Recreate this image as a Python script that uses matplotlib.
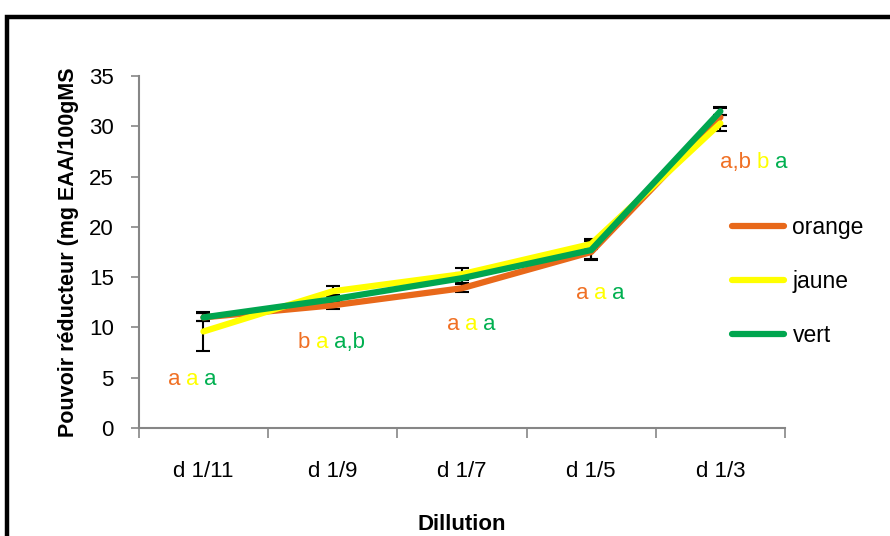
import matplotlib
matplotlib.use('Agg')
import matplotlib.pyplot as plt
from matplotlib.offsetbox import TextArea, HPacker, AnnotationBbox
from matplotlib.patches import Rectangle
import numpy as np

plt.rcParams['font.family'] = ['Liberation Sans', 'DejaVu Sans']

dilutions = ['d 1/11', 'd 1/9', 'd 1/7', 'd 1/5', 'd 1/3']
orange = [11.0, 12.2, 13.9, 17.5, 30.9]
jaune = [9.6, 13.6, 15.3, 18.3, 30.3]
vert = [11.0, 12.8, 14.9, 17.7, 31.5]
err_orange = [0.4, 0.4, 0.4, 0.8, 0.9]
err_jaune = [1.9, 0.5, 0.6, 0.5, 0.8]
err_vert = [0.4, 0.4, 0.5, 0.9, 0.4]

# significance letters (orange, jaune, vert)
letters = [('a', 'a', 'a'), ('b', 'a', 'a,b'), ('a', 'a', 'a'), ('a', 'a', 'a'), ('a,b', 'b', 'a')]
letter_pos = [(-0.09, 4.8), (0.99, 8.5), (2.07, 10.3), (3.07, 13.4), (4.26, 26.4)]

colors = {'orange': '#E8681A', 'jaune': '#FFFF00', 'vert': '#00A64F'}
text_colors = ['#F07024', '#FFFF00', '#00B050']

fig = plt.figure(figsize=(8.9, 5.36), dpi=100)
ax = fig.add_axes([0.156, 0.2015, 0.726, 0.6565])

x = np.arange(len(dilutions))
series = [('orange', orange, err_orange), ('jaune', jaune, err_jaune), ('vert', vert, err_vert)]
for name, vals, err in series:
    ax.errorbar(x, vals, yerr=err, fmt='none', ecolor='black', elinewidth=1.5,
                capsize=5, capthick=1.5, zorder=2)
for name, vals, err in series:
    ax.plot(x, vals, color=colors[name], lw=4.5, marker='D', ms=2.5,
            markeredgewidth=0, solid_capstyle='round', label=name, zorder=3)

ax.set_xlim(-0.5, len(dilutions) - 0.5)
ax.set_ylim(0, 35)
ax.set_yticks(range(0, 36, 5))
ax.set_xticks(x)
ax.set_xticklabels(dilutions)
ax.set_xticks(np.arange(-0.5, len(dilutions), 1), minor=True)
ax.tick_params(axis='x', which='major', length=0, pad=24, labelsize=16)
ax.tick_params(axis='x', which='minor', length=7, color='#868686', width=1.2)
ax.tick_params(axis='y', length=6, color='#868686', width=1.2, labelsize=16, pad=12)

for side in ['top', 'right']:
    ax.spines[side].set_visible(False)
for side in ['left', 'bottom']:
    ax.spines[side].set_color('#868686')
    ax.spines[side].set_linewidth(1.5)

ax.set_ylabel('Pouvoir réducteur (mg EAA/100gMS', fontsize=15.5, fontweight='bold', labelpad=7)
ax.set_xlabel('Dillution', fontsize=16, fontweight='bold', labelpad=23)

for (lx, ly), labs in zip(letter_pos, letters):
    parts = [TextArea(t, textprops=dict(color=c, fontsize=16)) for t, c in zip(labs, text_colors)]
    box = HPacker(children=parts, align='baseline', pad=0, sep=4)
    ab = AnnotationBbox(box, (lx, ly), frameon=False, box_alignment=(0.5, 0.5), zorder=4)
    ax.add_artist(ab)

leg = fig.legend(loc='center left', bbox_to_anchor=(0.799, 0.474), frameon=False,
                 fontsize=16.5, handlelength=2.3, handletextpad=0.35, labelspacing=1.35)

fig.add_artist(Rectangle((7 / 890, -0.1), 1.2, 1 - 17 / 536 + 0.1, transform=fig.transFigure,
                         fill=False, edgecolor='black', linewidth=3.2))

fig.savefig('out.png', dpi=100)
